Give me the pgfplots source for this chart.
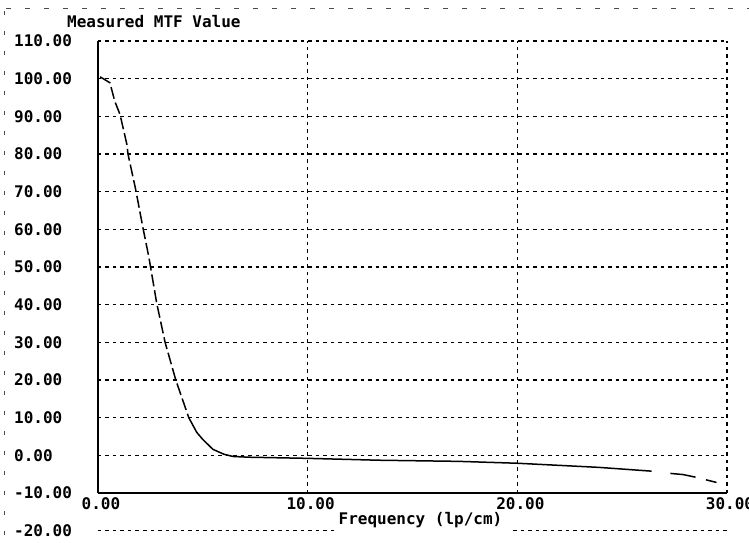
\documentclass[border=0pt]{standalone}
\usepackage{fontspec}
\setmainfont{DejaVu Sans Mono}
\usepackage{pgfplots}
\pgfplotsset{compat=1.18}
\tikzset{gridd/.style={black, line width=1.4pt, dash pattern=on 3.5pt off 4pt}}
\newcommand{\lbl}{\fontsize{16}{17}\selectfont\bfseries}
\begin{document}
\begin{tikzpicture}
\useasboundingbox (-98pt,-50pt) rectangle (651pt,493pt);
% scan frame
\draw[black!70, line width=0.8pt, dash pattern=on 5pt off 14pt] (-92pt,485pt) -- (651pt,485pt);
\draw[black!70, line width=0.8pt, dash pattern=on 4pt off 16pt] (-94pt,482pt) -- (-94pt,-50pt);
\begin{axis}[
  at={(0pt,0pt)}, anchor=south west,
  width=629pt, height=452pt, scale only axis,
  xmin=0, xmax=30, ymin=-10, ymax=110,
  xtick={0,10,20,30},
  xticklabels={0.00,10.00,20.00,30.00},
  ytick={-10,0,10,20,30,40,50,60,70,80,90,100,110},
  yticklabels={-10.00,0.00,10.00,20.00,30.00,40.00,50.00,60.00,70.00,80.00,90.00,100.00,110.00},
  axis x line*=bottom, axis y line*=left,
  axis line style={-, line width=2pt},
  major tick length=0pt,
  grid=major,
  major grid style={gridd},
  tick label style={font=\lbl},
  xticklabel style={yshift=-1pt, xshift=3pt},
  yticklabel style={anchor=west, inner sep=0pt, xshift=-84pt},
  xlabel={Frequency (lp/cm)},
  xlabel style={font=\lbl, xshift=8pt, yshift=4pt},
  clip=false,
]
  % steep part (appears dashed in the scan)
  \addplot[black, line width=1.5pt, dash pattern=on 12pt off 4pt] coordinates {
    (0.1,100.5) (0.57,98.9) (0.8,94) (1.05,90.5) (1.38,82.5) (1.43,80)
    (1.8,70.5) (2.14,60.5) (2.43,52.5) (2.8,40.4) (3.2,30) (3.71,20) (4.33,10)};
  \addplot[black, line width=1.5pt] coordinates {
    (4.33,10) (4.71,6.1) (5.0,4.2) (5.48,1.6) (6.0,0.3) (6.43,-0.3) (7.2,-0.5)
    (10,-0.8) (13.4,-1.3) (17.2,-1.6) (20,-2.1) (23.9,-3.2) (26.4,-4.2)};
  \addplot[black, line width=1.5pt] coordinates {
    (27.3,-4.8) (27.9,-5.1) (28.5,-5.8)};
  \addplot[black, line width=1.5pt] coordinates {
    (29.0,-6.5) (29.5,-7.2)};
  % extra -20 line below the axis
  \draw[gridd] (axis cs:0,-20) -- (axis cs:11.3,-20);
  \draw[gridd] (axis cs:19.8,-20) -- (axis cs:30,-20);
  \node[font=\lbl, anchor=west, inner sep=0pt] at ([xshift=-84pt]axis cs:0,-20) {-20.00};
  % title
  \node[font=\lbl, anchor=west, inner sep=0pt] at ([xshift=-31pt, yshift=19pt]rel axis cs:0,1) {Measured MTF Value};
\end{axis}
\end{tikzpicture}
\end{document}
